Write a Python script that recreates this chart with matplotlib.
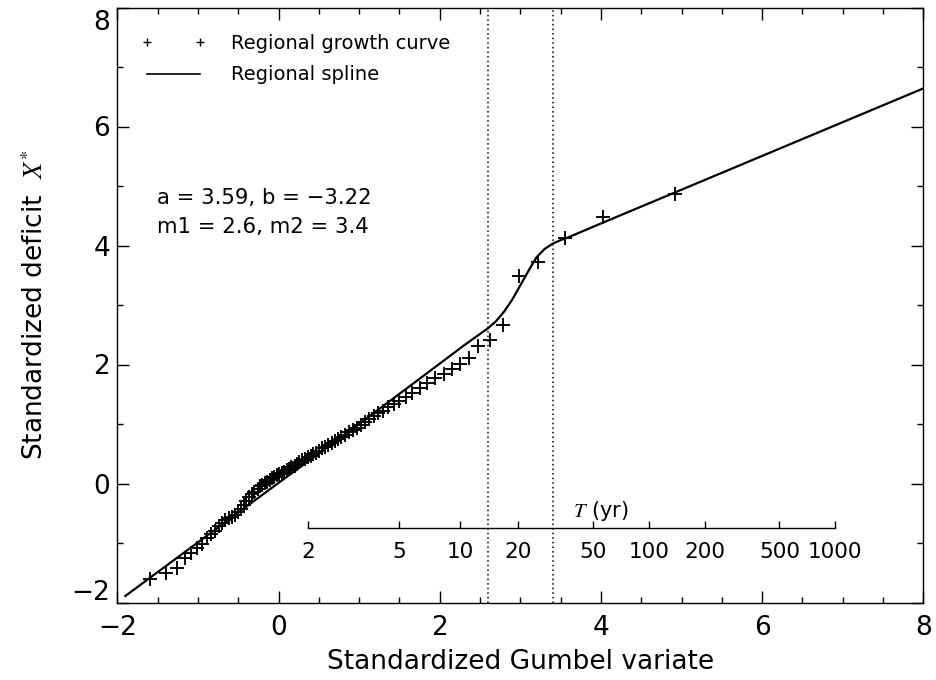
import numpy as np
import matplotlib
matplotlib.use("Agg")
import matplotlib.pyplot as plt
from matplotlib.lines import Line2D
from matplotlib.ticker import MultipleLocator, FixedLocator, NullLocator

plt.rcParams['font.family'] = ['DejaVu Sans']
plt.rcParams['mathtext.fontset'] = 'stix'

# Regional growth curve: standardized Gumbel variate vs standardized deficit
gumbel_x = [-1.59, -1.39, -1.26, -1.16, -1.08, -1.01, -0.95, -0.89, -0.84, -0.79,
            -0.74, -0.70, -0.66, -0.62, -0.58, -0.54, -0.50, -0.47, -0.43, -0.40,
            -0.36, -0.33, -0.30, -0.26, -0.23, -0.20, -0.17, -0.14, -0.11, -0.08,
            -0.05, -0.02, 0.01, 0.04, 0.07, 0.10, 0.13, 0.16, 0.20, 0.23,
            0.26, 0.29, 0.33, 0.36, 0.40, 0.43, 0.47, 0.50, 0.54, 0.58,
            0.62, 0.66, 0.70, 0.74, 0.78, 0.83, 0.87, 0.92, 0.97, 1.02,
            1.07, 1.12, 1.18, 1.24, 1.30, 1.36, 1.43, 1.50, 1.58, 1.66,
            1.75, 1.84, 1.94, 2.05, 2.15, 2.25, 2.36, 2.48, 2.63, 2.78,
            2.98, 3.22, 3.56, 4.02, 4.92]
deficit = [-1.60, -1.51, -1.42, -1.26, -1.17, -1.09, -1.02, -0.92, -0.85, -0.79,
           -0.72, -0.67, -0.62, -0.58, -0.56, -0.53, -0.48, -0.43, -0.36, -0.30,
           -0.23, -0.18, -0.14, -0.09, -0.05, -0.02, 0.01, 0.03, 0.06, 0.09,
           0.11, 0.14, 0.16, 0.18, 0.20, 0.23, 0.25, 0.28, 0.30, 0.33,
           0.36, 0.39, 0.42, 0.44, 0.46, 0.49, 0.52, 0.55, 0.59, 0.62,
           0.65, 0.68, 0.72, 0.75, 0.78, 0.82, 0.86, 0.90, 0.93, 0.98,
           1.03, 1.08, 1.13, 1.18, 1.22, 1.28, 1.34, 1.39, 1.45, 1.52,
           1.60, 1.69, 1.77, 1.84, 1.92, 2.01, 2.11, 2.31, 2.42, 2.67,
           3.49, 3.73, 4.12, 4.48, 4.87]

# Regional spline
spline_x = [-1.90, -1.00, 0.00, 1.00, 1.76, 2.30, 2.60, 2.70, 2.80, 2.90,
            3.00, 3.10, 3.20, 3.30, 3.40, 3.50, 3.60, 4.00, 8.00]
spline_y = [-1.89, -0.99, 0.01, 1.00, 1.77, 2.32, 2.61, 2.73, 2.89, 3.09,
            3.33, 3.57, 3.80, 3.94, 4.03, 4.09, 4.14, 4.37, 6.64]

# Spline parameters
a, b = 3.59, -3.22
m1, m2 = 2.6, 3.4

# Axis ticks
axis_ticks = [-2, 0, 2, 4, 6, 8]

# Return periods for the inner scale
return_periods = [2, 5, 10, 20, 50, 100, 200, 500, 1000]
T_axis_level = -0.75
T_label_x = 4.0


def fmt(v):
    return f'{v}'.replace('-', '\u2212')


fig = plt.figure(figsize=(9.37, 6.8), dpi=100)
ax = fig.add_axes([117.3 / 937, 1 - 602.5 / 680, 806.0 / 937, 595.0 / 680])

ax.plot(spline_x, spline_y, color='black', lw=1.6, zorder=3)
ax.plot(gumbel_x, deficit, ls='none', marker='+', ms=10.5, mew=1.35,
        color='black', zorder=4)

for m in (m1, m2):
    ax.axvline(m, color='black', lw=1.1, ls=(0, (1, 2.0)), zorder=2)

ax.set_xlim(-2, 8)
ax.set_ylim(-2, 8)
ax.xaxis.set_minor_locator(MultipleLocator(0.5))
ax.yaxis.set_minor_locator(MultipleLocator(1))
ax.tick_params(which='both', direction='in', top=True, right=True, width=1.0)
ax.tick_params(axis='x', labelsize=19, pad=9)
ax.tick_params(axis='y', labelsize=19, pad=5)
ax.tick_params(which='major', length=8.6)
ax.tick_params(which='minor', length=4.3)
for sp in ax.spines.values():
    sp.set_linewidth(1.0)

ax.set_xticks(axis_ticks)
ax.set_xticklabels([fmt(v) for v in axis_ticks])
ax.set_yticks(axis_ticks)
# end labels are pulled inside the frame height
ax.set_yticklabels([''] + [fmt(v) for v in axis_ticks[1:-1]] + [''])
for val, dy in ((axis_ticks[0], 10), (axis_ticks[-1], -15)):
    ax.annotate(fmt(val), xy=(0, val), xycoords=('axes fraction', 'data'),
                xytext=(-7, dy), textcoords='offset pixels',
                ha='right', va='center', fontsize=19)

ax.set_xlabel('Standardized Gumbel variate', fontsize=19, labelpad=6)
ax.set_ylabel('Standardized deficit  $X^{*}$', fontsize=19)
ax.yaxis.set_label_coords(-0.085, 0.5)

# Inner return-period scale
t_pos = [-np.log(-np.log(1 - 1 / t)) for t in return_periods]
x_lo, x_hi = t_pos[0], t_pos[-1]
tax = ax.inset_axes([x_lo, T_axis_level, x_hi - x_lo, 0.001],
                    transform=ax.transData)
tax.set_xlim(x_lo, x_hi)
tax.patch.set_visible(False)
for side in ('top', 'left', 'right'):
    tax.spines[side].set_visible(False)
tax.spines['bottom'].set_linewidth(1.0)
tax.yaxis.set_major_locator(NullLocator())
tax.xaxis.set_major_locator(FixedLocator(t_pos))
tax.set_xticklabels([str(t) for t in return_periods])
tax.tick_params(axis='x', direction='in', length=5, width=1.0,
                labelsize=15.5, pad=10)
ax.annotate('$T$ (yr)', xy=(T_label_x, T_axis_level), xycoords='data',
            xytext=(0, 17), textcoords='offset pixels',
            ha='center', va='center', fontsize=15)

# Legend
h_pts = Line2D([], [], ls='none', marker='+', ms=6, mew=1.0, color='black')
h_line = Line2D([], [], color='black', lw=1.2)
ax.legend([h_pts, h_line], ['Regional growth curve', 'Regional spline'],
          loc='upper left', bbox_to_anchor=(0.030, 0.955), frameon=False,
          fontsize=14, numpoints=2, handlelength=3.3, handletextpad=1.3,
          borderpad=0, borderaxespad=0, labelspacing=0.62)

ax.text(0.049, 0.680, f'a = {a:.2f}, b = \u2212{abs(b):.2f}', transform=ax.transAxes,
        fontsize=15.3, va='center', ha='left')
ax.text(0.049, 0.631, f'm1 = {m1:.1f}, m2 = {m2:.1f}', transform=ax.transAxes,
        fontsize=15.3, va='center', ha='left')

fig.savefig('out.png', dpi=100)
